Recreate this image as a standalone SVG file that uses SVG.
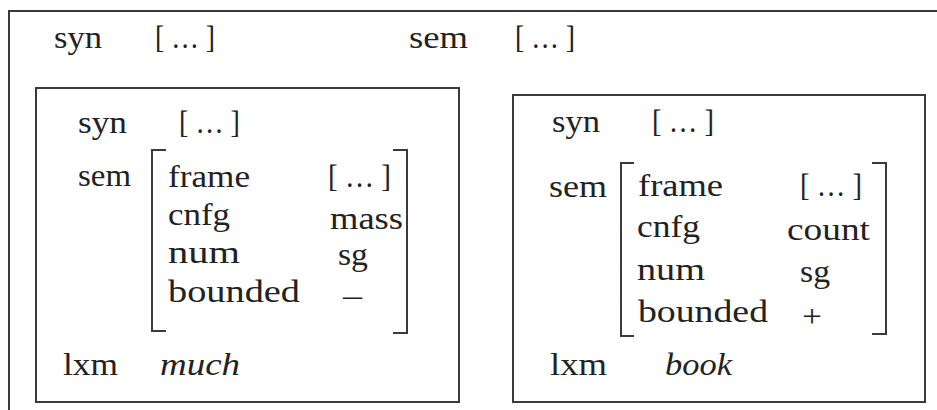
<svg xmlns="http://www.w3.org/2000/svg" width="937" height="410" viewBox="0 0 937 410">
  <style>
    .frame { fill: none; stroke: #3a3a3a; stroke-width: 2; }
    .brk { fill: none; stroke: #3a3a3a; stroke-width: 2; }
    text { font-family: "Liberation Serif", "Times New Roman", serif; font-size: 32px; fill: #222; }
    .it { font-style: italic; }
    .tight { font-size: 31px; }
  </style>
  <rect width="937" height="410" fill="#fff"/>

  <!-- outer construction: syn / sem with two daughters -->
  <g id="phrase">
    <rect class="frame" x="9" y="11" width="940" height="420"/>
    <text x="54" y="48" textLength="48" lengthAdjust="spacingAndGlyphs">syn</text>
    <text x="155" y="48" textLength="60" lengthAdjust="spacingAndGlyphs">[ … ]</text>
    <text x="409" y="48" textLength="59" lengthAdjust="spacingAndGlyphs">sem</text>
    <text x="515" y="48" textLength="60" lengthAdjust="spacingAndGlyphs">[ … ]</text>
  </g>

  <!-- daughter: much -->
  <g id="much">
    <rect class="frame" x="36" y="88" width="423" height="314"/>
    <text x="78" y="133" textLength="49" lengthAdjust="spacingAndGlyphs">syn</text>
    <text x="179" y="133" textLength="61" lengthAdjust="spacingAndGlyphs">[ … ]</text>
    <text x="78" y="186" textLength="53" lengthAdjust="spacingAndGlyphs">sem</text>
    <path class="brk" d="M166,150 H152 V331 H166"/>
    <path class="brk" d="M393,150 H407 V333 H393"/>
    <text x="168" y="187" textLength="82" lengthAdjust="spacingAndGlyphs">frame</text>
    <text x="328" y="187" textLength="63" lengthAdjust="spacingAndGlyphs">[ … ]</text>
    <text x="168" y="225" textLength="62" lengthAdjust="spacingAndGlyphs">cnfg</text>
    <text class="tight" x="330" y="229" textLength="73" lengthAdjust="spacingAndGlyphs">mass</text>
    <text x="168" y="263" textLength="72" lengthAdjust="spacingAndGlyphs">num</text>
    <text class="tight" x="338" y="265" textLength="30" lengthAdjust="spacingAndGlyphs">sg</text>
    <text x="168" y="302" textLength="132" lengthAdjust="spacingAndGlyphs">bounded</text>
    <text x="343" y="306" textLength="19" lengthAdjust="spacingAndGlyphs">–</text>
    <text x="63" y="375" textLength="55" lengthAdjust="spacingAndGlyphs">lxm</text>
    <text class="it" x="160" y="375" textLength="80" lengthAdjust="spacingAndGlyphs">much</text>
  </g>

  <!-- daughter: book -->
  <g id="book">
    <rect class="frame" x="513" y="95" width="412" height="307"/>
    <text x="552" y="132" textLength="48" lengthAdjust="spacingAndGlyphs">syn</text>
    <text x="652" y="132" textLength="62" lengthAdjust="spacingAndGlyphs">[ … ]</text>
    <text x="549" y="197" textLength="58" lengthAdjust="spacingAndGlyphs">sem</text>
    <path class="brk" d="M634,163 H621 V336 H634"/>
    <path class="brk" d="M872,163 H886 V334 H872"/>
    <text x="638" y="196" textLength="85" lengthAdjust="spacingAndGlyphs">frame</text>
    <text x="800" y="196" textLength="62" lengthAdjust="spacingAndGlyphs">[ … ]</text>
    <text x="637" y="237" textLength="63" lengthAdjust="spacingAndGlyphs">cnfg</text>
    <text x="787" y="240" textLength="83" lengthAdjust="spacingAndGlyphs">count</text>
    <text x="637" y="280" textLength="68" lengthAdjust="spacingAndGlyphs">num</text>
    <text x="800" y="282" textLength="30" lengthAdjust="spacingAndGlyphs">sg</text>
    <text x="638" y="322" textLength="130" lengthAdjust="spacingAndGlyphs">bounded</text>
    <text x="802" y="327" textLength="20" lengthAdjust="spacingAndGlyphs">+</text>
    <text x="550" y="375" textLength="57" lengthAdjust="spacingAndGlyphs">lxm</text>
    <text class="it" x="665" y="375" textLength="67" lengthAdjust="spacingAndGlyphs">book</text>
  </g>

  <!-- no connectors: the structure is expressed by nesting -->
  <g id="connectors"/>
</svg>
